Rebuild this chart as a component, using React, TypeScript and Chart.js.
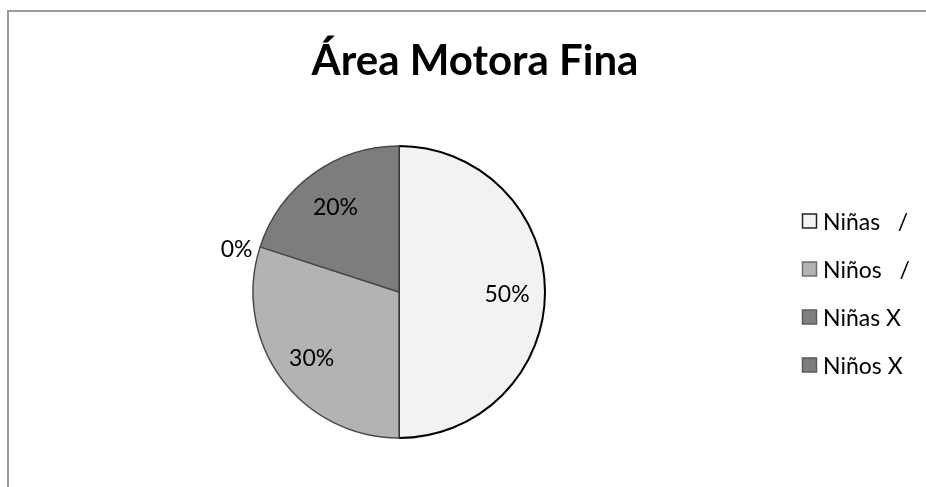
import React, { useEffect, useRef } from "react";
import { Chart, registerables } from "chart.js";

Chart.register(...registerables);

const TITLE = "Área Motora Fina";
const CATEGORIES = ["Niñas   /", "Niños   /", "Niñas X", "Niños X"];
const VALUES = [50, 30, 0, 20];
const PERCENT_LABELS = ["50%", "30%", "0%", "20%"];
const COLORS = ["#f2f2f2", "#b3b3b3", "#808080", "#7d7d7d"];
const BORDERS = ["#000000", "#4a4a4a", "#4a4a4a", "#4a4a4a"];
const LEGEND_BORDERS = ["#222222", "#6e6e6e", "#5a5a5a", "#5a5a5a"];

const FONT = "Lato, 'Open Sans', sans-serif";

const decorPlugin = {
  id: "decor",
  beforeDraw(chart: any) {
    const ctx = chart.ctx;
    ctx.save();
    ctx.fillStyle = "#ffffff";
    ctx.fillRect(0, 0, chart.width, chart.height);
    ctx.fillStyle = "#9a9a9a";
    ctx.fillRect(7, 10, 2, chart.height - 10);
    ctx.fillRect(7, 10, chart.width - 7, 2);
    ctx.restore();
  },
  afterDraw(chart: any) {
    const ctx = chart.ctx;
    ctx.save();
    // title
    ctx.fillStyle = "#000";
    ctx.font = `bold 42px ${FONT}`;
    ctx.textAlign = "center";
    ctx.textBaseline = "alphabetic";
    ctx.fillText(TITLE, 475, 75);

    // slice labels
    const meta = chart.getDatasetMeta(0);
    ctx.font = `23px ${FONT}`;
    ctx.textBaseline = "middle";
    meta.data.forEach((arc: any, i: number) => {
      const p = arc.getProps(["x", "y", "startAngle", "endAngle", "outerRadius"], true);
      const mid = (p.startAngle + p.endAngle) / 2;
      const v = VALUES[i];
      if (v > 0) {
        const r = p.outerRadius * 0.74;
        ctx.textAlign = "center";
        ctx.fillText(PERCENT_LABELS[i], p.x + r * Math.cos(mid), p.y + r * Math.sin(mid) + 3);
      } else {
        const r = p.outerRadius + 8;
        ctx.textAlign = "right";
        ctx.fillText(PERCENT_LABELS[i], p.x + r * Math.cos(mid), p.y + p.outerRadius * Math.sin(mid) + 3);
      }
    });

    // legend
    const rowY = [221, 269, 317, 365];
    CATEGORIES.forEach((label, i) => {
      const y = rowY[i];
      ctx.fillStyle = COLORS[i];
      ctx.fillRect(802.5, y - 7, 14, 14);
      ctx.strokeStyle = LEGEND_BORDERS[i];
      ctx.lineWidth = 1.5;
      ctx.strokeRect(802.5, y - 7, 14, 14);
      ctx.fillStyle = "#000";
      ctx.textAlign = "left";
      ctx.textBaseline = "middle";
      ctx.fillText(label, 823, y + 2);
    });
    ctx.restore();
  },
};

export default function App() {
  const ref = useRef<HTMLCanvasElement | null>(null);
  useEffect(() => {
    if (!ref.current) return;
    const chart = new Chart(ref.current, {
      type: "pie",
      data: {
        labels: CATEGORIES,
        datasets: [
          {
            data: VALUES,
            backgroundColor: COLORS,
            borderColor: BORDERS,
            borderWidth: [2, 1.5, 1.5, 1.5],
          },
        ],
      },
      options: {
        responsive: false,
        animation: false,
        radius: 146,
        layout: { padding: { left: 253, right: 381, top: 146, bottom: 49 } },
        plugins: {
          legend: { display: false },
          title: { display: false },
          tooltip: { enabled: false },
        },
      } as any,
      plugins: [decorPlugin],
    });
    return () => chart.destroy();
  }, []);
  return (
    <div style={{ position: "absolute", left: 0, top: 0, width: 926, height: 487 }}>
      <canvas ref={ref} width={926} height={487} style={{ width: 926, height: 487 }} />
    </div>
  );
}
